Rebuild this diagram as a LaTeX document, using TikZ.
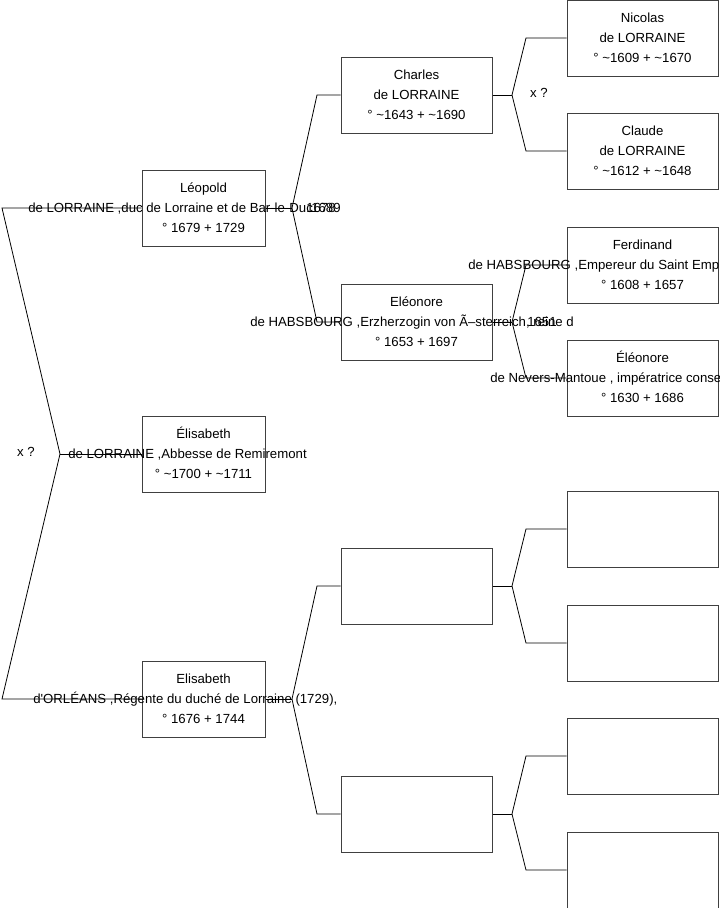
\documentclass[tikz,border=0pt]{standalone}
\usepackage{fontspec}
\setmainfont{Liberation Sans}
\usepackage{tikz}

\begin{document}
\begin{tikzpicture}[x=0.75pt,y=-0.75pt,
  box/.style={draw=black!75,line width=0.75pt,minimum width=92.25pt,minimum height=57pt,inner sep=0pt},
  wbox/.style={box,minimum width=113.25pt},
  txt/.style={inner sep=0pt,anchor=base,font=\fontsize{9.9}{12}\selectfont},
  txtl/.style={txt,anchor=base west},
  link/.style={draw,line width=0.6pt}]
  \useasboundingbox (0,0) rectangle (719,908);
  % first generation
  \node[box] (leo) at (203.5,208) {};
  \node[box] (abb) at (203.5,454) {};
  \node[box] (eli) at (203.5,699) {};
  % second generation
  \node[wbox] (cha) at (416.5,95) {};
  \node[wbox] (eleo) at (416.5,322) {};
  \node[wbox] (mothf) at (416.5,586) {};
  \node[wbox] (mothm) at (416.5,814) {};
  % third generation
  \node[wbox] (nic) at (642.5,38) {};
  \node[wbox] (cla) at (642.5,151) {};
  \node[wbox] (fer) at (642.5,265) {};
  \node[wbox] (nev) at (642.5,378) {};
  \node[wbox] (gpa) at (642.5,529) {};
  \node[wbox] (gpb) at (642.5,643) {};
  \node[wbox] (gpc) at (642.5,756) {};
  \node[wbox] (gpd) at (642.5,870) {};

  % texts
  \node[txt] (leo1) at (203.5,192) {Léopold};
  \node[txtl] (leo2) at (28,212) {de LORRAINE ,duc de Lorraine et de Bar-le-Duc};
  \node[txtl] (leo2b) at (306,212) {1678};
  \node[txtl] (leo2c) at (311,212) {1689};
  \node[txt] (leo3) at (203.5,232) {° 1679 + 1729};
  \node[txt] (abb1) at (203.5,438) {Élisabeth};
  \node[txtl] (abb2) at (68,458) {de LORRAINE ,Abbesse de Remiremont};
  \node[txt] (abb3) at (203.5,478) {° \textasciitilde1700 + \textasciitilde1711};
  \node[txt] (eli1) at (203.5,683) {Elisabeth};
  \node[txtl] (eli2) at (33,703) {d\textquotesingle ORLÉANS ,Régente du duché de Lorraine (1729),};
  \node[txt] (eli3) at (203.5,723) {° 1676 + 1744};
  \node[txt] (cha1) at (416.5,79) {Charles};
  \node[txt] (cha2) at (416.5,99) {de LORRAINE};
  \node[txt] (cha3) at (416.5,119) {° \textasciitilde1643 + \textasciitilde1690};
  \node[txt] (eleo1) at (416.5,306) {Eléonore};
  \node[txtl] (eleo2) at (250,326) {de HABSBOURG ,Erzherzogin von Ã–sterreich, reine d};
  \node[txtl] (eleo2b) at (527,326) {1651};
  \node[txt] (eleo3) at (416.5,346) {° 1653 + 1697};
  \node[txt] (nic1) at (642.5,22) {Nicolas};
  \node[txt] (nic2) at (642.5,42) {de LORRAINE};
  \node[txt] (nic3) at (642.5,62) {° \textasciitilde1609 + \textasciitilde1670};
  \node[txt] (cla1) at (642.5,135) {Claude};
  \node[txt] (cla2) at (642.5,155) {de LORRAINE};
  \node[txt] (cla3) at (642.5,175) {° \textasciitilde1612 + \textasciitilde1648};
  \node[txt] (fer1) at (642.5,249) {Ferdinand};
  \node[txtl] (fer2) at (468,269) {de HABSBOURG ,Empereur du Saint Emp};
  \node[txt] (fer3) at (642.5,289) {° 1608 + 1657};
  \node[txt] (nev1) at (642.5,362) {Éléonore};
  \node[txtl] (nev2) at (490,382) {de Nevers-Mantoue , impératrice conse};
  \node[txt] (nev3) at (642.5,402) {° 1630 + 1686};
  \node[txt,anchor=center] (xroot) at (26,452) {x ?};
  \node[txt,anchor=center] (xcha) at (539,93) {x ?};

  % forks
  \coordinate (rtop) at (2,208);
  \coordinate (rfork) at (60,454);
  \coordinate (rbot) at (2,699);
  \path[link] (leo.west) -- (rtop) -- (rfork) -- (rbot) -- (eli.west);
  \path[link] (rfork) -- (abb.west);

  \coordinate (fleo) at (292,208);
  \coordinate (kcha) at (317,95);
  \coordinate (keleo) at (317,322);
  \path[link] (leo.east) -- (fleo);
  \path[link] (fleo) -- (kcha) -- (cha.west);
  \path[link] (fleo) -- (keleo) -- (eleo.west);

  \coordinate (feli) at (292,699);
  \coordinate (kmothf) at (317,586);
  \coordinate (kmothm) at (317,814);
  \path[link] (eli.east) -- (feli);
  \path[link] (feli) -- (kmothf) -- (mothf.west);
  \path[link] (feli) -- (kmothm) -- (mothm.west);

  \coordinate (fcha) at (512,95);
  \coordinate (knic) at (526,38);
  \coordinate (kcla) at (526,151);
  \path[link] (cha.east) -- (fcha);
  \path[link] (fcha) -- (knic) -- (nic.west);
  \path[link] (fcha) -- (kcla) -- (cla.west);

  \coordinate (feleo) at (512,322);
  \coordinate (kfer) at (526,265);
  \coordinate (knev) at (526,378);
  \path[link] (eleo.east) -- (feleo);
  \path[link] (feleo) -- (kfer) -- (fer.west);
  \path[link] (feleo) -- (knev) -- (nev.west);

  \coordinate (fmothf) at (512,586);
  \coordinate (kgpa) at (526,529);
  \coordinate (kgpb) at (526,643);
  \path[link] (mothf.east) -- (fmothf);
  \path[link] (fmothf) -- (kgpa) -- (gpa.west);
  \path[link] (fmothf) -- (kgpb) -- (gpb.west);

  \coordinate (fmothm) at (512,814);
  \coordinate (kgpc) at (526,756);
  \coordinate (kgpd) at (526,870);
  \path[link] (mothm.east) -- (fmothm);
  \path[link] (fmothm) -- (kgpc) -- (gpc.west);
  \path[link] (fmothm) -- (kgpd) -- (gpd.west);
\end{tikzpicture}
\end{document}
